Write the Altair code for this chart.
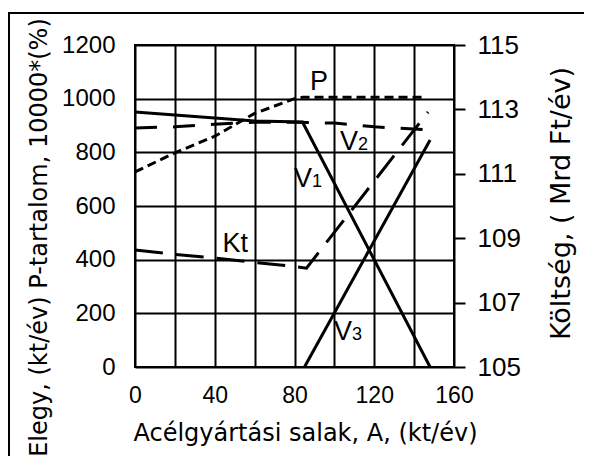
import altair as alt
import pandas as pd

# ---- data ----
x_v1 = [0, 20, 40, 60, 84, 148]
y_v1 = [950, 939, 928, 917, 913, 0]

x_v2 = [0, 20, 40, 60, 80, 100, 120, 149]
y_v2 = [891, 895, 905, 912, 912, 909, 895, 883]

x_v3 = [85, 148]
y_v3 = [0, 846]

x_p = [0, 20, 40, 60, 80, 84, 145]
y_p = [727, 798, 860, 945, 1000, 1005, 1005]

# Kt is a cost, read on the right axis (Mrd Ft/év)
x_kt = [0, 20, 40, 60, 80, 86, 147]
y_kt = [108.63, 108.50, 108.38, 108.25, 108.12, 108.07, 112.92]

label_main = ["V", "V", "V", "Kt", "P"]
label_sub = ["1", "2", "3", "", ""]
label_x = [88.8, 111.8, 108.8, 56.7, 96.8]
label_y = [671, 809, 101, 429, 1032]

x_ticks = list(range(0, 161, 20))
y_left_ticks = list(range(0, 1201, 200))
y_right_ticks = [105, 107, 109, 111, 113, 115]

TICK_FONT = "Liberation Sans"
TITLE_FONT = "DejaVu Sans"

xscale = alt.Scale(domain=[0, 160], nice=False, zero=False)
yscale = alt.Scale(domain=[0, 1200], nice=False)
yrscale = alt.Scale(domain=[105, 115], nice=False, zero=False)

x_axis = alt.Axis(
    values=x_ticks,
    format="d",
    labelExpr="datum.value % 40 == 0 ? datum.label : ''",
    title="Acélgyártási salak, A, (kt/év)",
    grid=True, gridColor="black", gridWidth=2, gridOpacity=1,
    ticks=False, domain=False,
    labelFont=TICK_FONT, labelFontSize=23, labelColor="black",
    labelPadding=17, labelFlush=False,
    titleFont=TITLE_FONT, titleFontSize=24, titleFontWeight="normal",
    titleColor="black", titleX=170, titleY=73, titleBaseline="alphabetic",
    titleAlign="center",
)

y_axis = alt.Axis(
    values=y_left_ticks,
    format="d",
    title="Elegy, (kt/év) P-tartalom, 10000*(%)",
    grid=True, gridColor="black", gridWidth=2, gridOpacity=1,
    ticks=False, domain=False,
    labelFont=TICK_FONT, labelFontSize=24, labelColor="black",
    labelPadding=20, labelFlush=False, labelBaseline="middle",
    titleFont=TITLE_FONT, titleFontSize=24, titleFontWeight="normal",
    titleColor="black", titleAngle=270, titleX=-96, titleY=192,
    titleAlign="center", titleBaseline="middle",
)

yr_axis = alt.Axis(
    orient="right",
    values=y_right_ticks,
    format="d",
    title="Költség, ( Mrd Ft/év)",
    grid=False, domain=False,
    ticks=True, tickSize=11, tickWidth=2, tickColor="black",
    labelFont=TICK_FONT, labelFontSize=26, labelColor="black",
    labelPadding=12, labelFlush=False, labelBaseline="middle",
    titleFont=TITLE_FONT, titleFontSize=27, titleFontWeight="normal",
    titleColor="black", titleAngle=270, titleX=107, titleY=158,
    titleAlign="center", titleBaseline="middle",
)

X = alt.X("x:Q", scale=xscale, axis=x_axis)
Y = alt.Y("y:Q", scale=yscale, axis=y_axis)


def left_line(xs, ys, dash=None):
    df = pd.DataFrame({"x": xs, "y": ys})
    kw = dict(color="black", strokeWidth=3, strokeCap="butt", clip=False)
    if dash:
        kw["strokeDash"] = dash
    return alt.Chart(df).mark_line(**kw).encode(x=X, y=Y)


v1 = left_line(x_v1, y_v1)
v2 = left_line(x_v2, y_v2, dash=[22, 16])
v3 = left_line(x_v3, y_v3)
p_line = left_line(x_p, y_p, dash=[9, 5])

labels_df = pd.DataFrame({"x": label_x, "y": label_y,
                          "main": label_main, "sub": label_sub})
lab_main = alt.Chart(labels_df).mark_text(
    font=TICK_FONT, fontSize=27, color="black", align="right",
    baseline="alphabetic"
).encode(x=X, y=Y, text="main:N")
lab_sub = alt.Chart(labels_df).mark_text(
    font=TICK_FONT, fontSize=18, color="black", align="left",
    baseline="alphabetic"
).encode(x=X, y=Y, text="sub:N")

# decorative picture frame (top and left edges only), as thin filled bars
frame_top = alt.Chart(pd.DataFrame({"k": [0]})).mark_rect(
    color="black", clip=False
).encode(x=alt.value(-127), x2=alt.value(449), y=alt.value(-33), y2=alt.value(-31))
frame_left = alt.Chart(pd.DataFrame({"k": [1]})).mark_rect(
    color="black", clip=False
).encode(x=alt.value(-127), x2=alt.value(-125), y=alt.value(-33), y2=alt.value(411))

left = alt.layer(frame_top, frame_left, v1, v2, v3, p_line, lab_main, lab_sub)

kt = alt.Chart(pd.DataFrame({"x": x_kt, "y": y_kt})).mark_line(
    color="black", strokeWidth=3, strokeCap="butt", strokeDash=[28, 13], clip=False
).encode(
    x=X,
    y=alt.Y("y:Q", scale=yrscale, axis=yr_axis),
)

chart = alt.layer(left, kt).resolve_scale(y="independent").properties(
    width=319, height=322,
    autosize=alt.AutoSizeParams(type="none"),
    padding={"left": 127, "top": 37, "right": 130, "bottom": 89},
    background="white",
).configure_view(stroke="black", strokeWidth=2)

chart.save("out.html", embed_options={"renderer": "svg", "actions": False})
